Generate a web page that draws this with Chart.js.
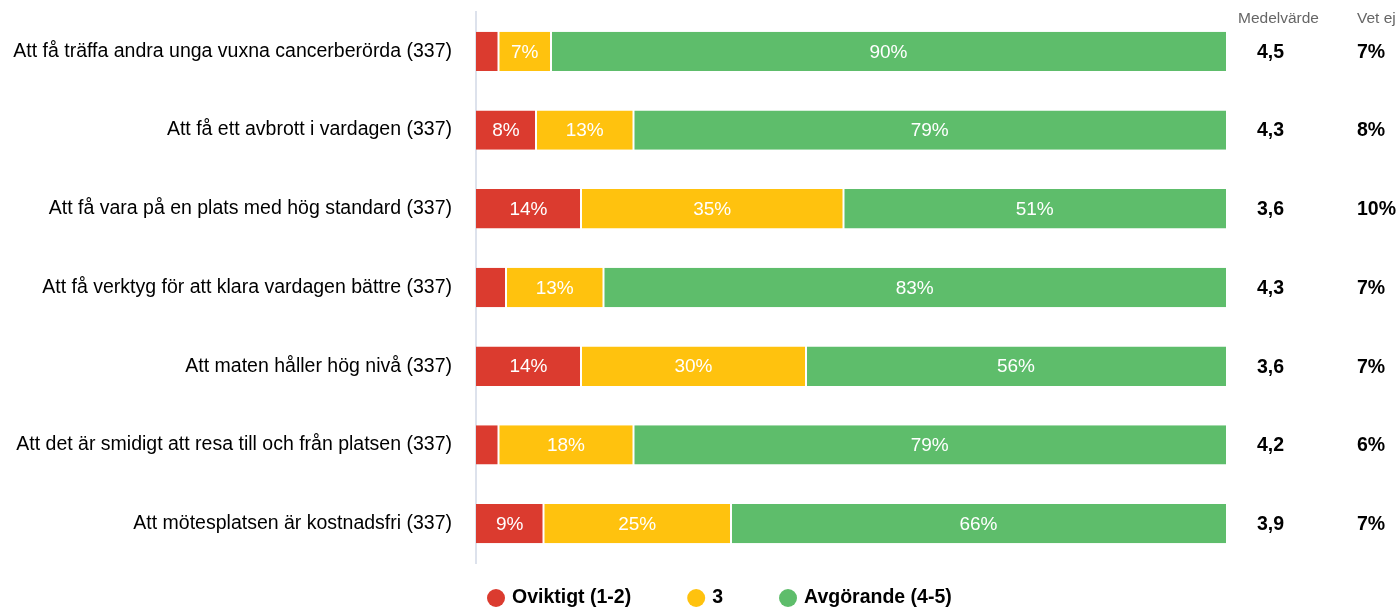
<!DOCTYPE html>
<html>
<head>
<meta charset="utf-8">
<script src="https://cdn.jsdelivr.net/npm/chart.js@4.4.1/dist/chart.umd.min.js"></script>
<style>
    html, body { margin: 0; padding: 0; background: #fff; }
    #wrap { position: relative; width: 1399px; height: 607px; }
</style>
</head>
<body>
<div id="wrap"><canvas id="chart" width="1399" height="607"></canvas></div>
<script>
// data
const categories = [
    'Att få träffa andra unga vuxna cancerberörda (337)',
    'Att få ett avbrott i vardagen (337)',
    'Att få vara på en plats med hög standard (337)',
    'Att få verktyg för att klara vardagen bättre (337)',
    'Att maten håller hög nivå (337)',
    'Att det är smidigt att resa till och från platsen (337)',
    'Att mötesplatsen är kostnadsfri (337)'
];
const oviktigt = [3, 8, 14, 4, 14, 3, 9];
const tre = [7, 13, 35, 13, 30, 18, 25];
const avgorande = [90, 79, 51, 83, 56, 79, 66];
const medelvarde = [4.5, 4.3, 3.6, 4.3, 3.6, 4.2, 3.9];
const vetEj = [7, 8, 10, 7, 7, 6, 7];
const seriesLabels = ['Oviktigt (1-2)', '3', 'Avgörande (4-5)'];
const seriesColors = ['#db3b2f', '#ffc20e', '#5ebd6b'];

const FONT = 'Arial, "Liberation Sans", sans-serif';

// etiketter i staplarna
const barLabels = {
    id: 'barLabels',
    afterDatasetsDraw(chart) {
        const ctx = chart.ctx;
        ctx.save();
        ctx.font = '19px ' + FONT;
        ctx.fillStyle = '#fff';
        ctx.textAlign = 'center';
        ctx.textBaseline = 'middle';
        chart.data.datasets.forEach((ds, di) => {
            const meta = chart.getDatasetMeta(di);
            meta.data.forEach((bar, i) => {
                const v = ds.data[i];
                if (v < 5) return;
                const p = bar.getProps(['x', 'base', 'y'], true);
                ctx.fillText(v + '%', (p.x + p.base) / 2, p.y + 1);
            });
        });
        ctx.restore();
    }
};

// kolumner till höger: Medelvärde och Vet ej
const sideColumns = {
    id: 'sideColumns',
    afterDraw(chart) {
        const ctx = chart.ctx;
        const y = chart.scales.y;
        ctx.save();
        ctx.textBaseline = 'middle';
        ctx.textAlign = 'left';
        ctx.fillStyle = '#666';
        ctx.font = '15.5px ' + FONT;
        ctx.fillText('Medelvärde', 1238, 19);
        ctx.fillText('Vet ej', 1357, 19);
        ctx.fillStyle = '#000';
        ctx.font = 'bold 19.5px ' + FONT;
        categories.forEach((c, i) => {
            const py = y.getPixelForValue(i) + 1;
            ctx.fillText(medelvarde[i].toFixed(1).replace('.', ','), 1257, py);
            ctx.fillText(vetEj[i] + '%', 1357, py);
        });
        ctx.restore();
    }
};

// legend längst ned
const bottomLegend = {
    id: 'bottomLegend',
    afterDraw(chart) {
        const ctx = chart.ctx;
        ctx.save();
        ctx.font = 'bold 19.5px ' + FONT;
        ctx.textBaseline = 'middle';
        ctx.textAlign = 'left';
        let x = 487;
        const cy = 598;
        chart.data.datasets.forEach((ds) => {
            ctx.fillStyle = ds.backgroundColor;
            ctx.beginPath();
            ctx.arc(x + 9, cy, 9, 0, Math.PI * 2);
            ctx.fill();
            ctx.fillStyle = '#000';
            ctx.fillText(ds.label, x + 25, cy);
            x += 25 + ctx.measureText(ds.label).width + 56;
        });
        ctx.restore();
    }
};

function makeDataset(label, data, color, border) {
    return {
        label: label,
        data: data,
        backgroundColor: color,
        borderColor: '#fff',
        borderWidth: border,
        borderSkipped: false,
        barPercentage: 0.5,
        categoryPercentage: 1
    };
}

const ctx = document.getElementById('chart').getContext('2d');
new Chart(ctx, {
    type: 'bar',
    data: {
        labels: categories,
        datasets: [
            makeDataset(seriesLabels[0], oviktigt, seriesColors[0], { right: 1 }),
            makeDataset(seriesLabels[1], tre, seriesColors[1], { left: 1, right: 1 }),
            makeDataset(seriesLabels[2], avgorande, seriesColors[2], { left: 1 })
        ]
    },
    options: {
        indexAxis: 'y',
        responsive: false,
        animation: false,
        layout: {
            padding: { top: 12, right: 173, bottom: 44, left: 0 }
        },
        scales: {
            x: {
                stacked: true,
                min: 0,
                max: 100,
                display: false
            },
            y: {
                stacked: true,
                grid: { display: false },
                border: { display: true, color: '#dde2ec', width: 2 },
                ticks: {
                    color: '#000',
                    padding: 16,
                    font: { family: FONT, size: 19.5 }
                },
                afterFit: function (scale) {
                    scale.width = 476;
                    scale.paddingTop = 0;
                    scale.paddingBottom = 0;
                }
            }
        },
        plugins: {
            legend: { display: false },
            tooltip: { enabled: false }
        }
    },
    plugins: [barLabels, sideColumns, bottomLegend]
});
</script>
</body>
</html>
